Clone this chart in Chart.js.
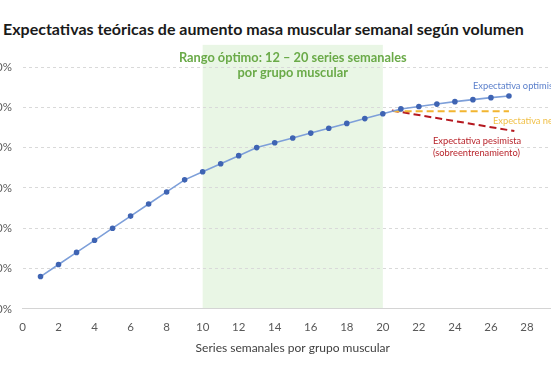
<!DOCTYPE html>
<html>
<head>
<meta charset="utf-8">
<script src="https://cdn.jsdelivr.net/npm/chart.js@4.4.1/dist/chart.umd.min.js"></script>
<style>
  html, body { margin: 0; padding: 0; background: #fff; }
  body { width: 551px; height: 367px; overflow: hidden; position: relative; }
  #title {
    position: absolute; left: 3px; top: 19px; margin: 0;
    font: bold 16px Lato, sans-serif; color: #1a1a1a; white-space: nowrap;
  }
  #wrap { position: absolute; left: 0; top: 0; width: 575px; height: 367px; }
</style>
</head>
<body>
<h1 id="title">Expectativas teóricas de aumento masa muscular semanal según volumen</h1>
<div id="wrap"><canvas id="chart"></canvas></div>
<script>
    'use strict';

    // series semanales (eje X)
    var seriesSemanales = [1, 2, 3, 4, 5, 6, 7, 8, 9, 10, 11, 12, 13, 14, 15, 16, 17, 18, 19, 20, 21, 22, 23, 24, 25, 26, 27];
    var expectativaOptimista = [8, 11, 14, 17, 20, 23, 26, 29, 32, 34, 36, 38, 40, 41.2, 42.4, 43.6, 44.8, 46, 47.2, 48.4, 49.6, 50.2, 50.8, 51.4, 51.9, 52.4, 52.8];

    var neutralX = [20.6, 27];
    var neutralY = [49.0, 49.0];
    var pesimistaX = [20.5, 27.3];
    var pesimistaY = [49.2, 44.1];

    var rangoOptimo = [10, 20];
    var rangoTope = 65.5;
    var xTicks = [0, 2, 4, 6, 8, 10, 12, 14, 16, 18, 20, 22, 24, 26, 28, 30];
    var yTicks = [0, 10, 20, 30, 40, 50, 60];

    function puntos(xs, ys) {
        return xs.map(function(x, i) { return { x: x, y: ys[i] }; });
    }

    var fontFam = 'Lato, sans-serif';

    var rangoPlugin = {
        id: 'rango',
        beforeDraw: function(chart) {
            var x = chart.scales.x, y = chart.scales.y, ctx = chart.ctx;
            var x0 = x.getPixelForValue(rangoOptimo[0]);
            var x1 = x.getPixelForValue(rangoOptimo[1]);
            var y0 = y.getPixelForValue(rangoTope);
            var y1 = y.getPixelForValue(0);
            ctx.save();
            ctx.fillStyle = '#e9f6e5';
            ctx.fillRect(x0, y0, x1 - x0, y1 - y0);
            ctx.restore();
        },
        afterDraw: function(chart) {
            var x = chart.scales.x, ctx = chart.ctx;
            ctx.save();
            // texto del rango
            var cx = (x.getPixelForValue(rangoOptimo[0]) + x.getPixelForValue(rangoOptimo[1])) / 2;
            ctx.fillStyle = '#6aaa48';
            ctx.font = 'bold 12.8px ' + fontFam;
            ctx.textAlign = 'center';
            ctx.textBaseline = 'middle';
            ctx.fillText('Rango óptimo: 12 – 20 series semanales', cx, 58);
            ctx.fillText('por grupo muscular', cx, 73);

            ctx.font = '9.3px ' + fontFam;
            ctx.textAlign = 'left';
            ctx.fillStyle = '#5a7fcb';
            ctx.fillText('Expectativa optimista', 473, 86);
            ctx.fillStyle = '#f0bf45';
            ctx.fillText('Expectativa neutral', 493, 121);
            ctx.fillStyle = '#b8242b';
            ctx.fillText('Expectativa pesimista', 433, 141);
            ctx.fillText('(sobreentrenamiento)', 433, 153);
            ctx.restore();
        }
    };

    new Chart(document.getElementById('chart'), {
        type: 'line',
        data: {
            datasets: [{
                label: 'Expectativa optimista',
                data: puntos(seriesSemanales, expectativaOptimista),
                borderColor: '#7d9fd9',
                backgroundColor: '#3f64b3',
                pointBackgroundColor: '#3f64b3',
                pointBorderColor: '#3f64b3',
                pointRadius: 2,
                borderWidth: 1.6,
                order: 1
            }, {
                label: 'Expectativa neutral',
                data: puntos(neutralX, neutralY),
                borderColor: '#f2b530',
                borderWidth: 2,
                borderDash: [7, 4],
                pointRadius: 0,
                order: 2
            }, {
                label: 'Expectativa pesimista',
                data: puntos(pesimistaX, pesimistaY),
                borderColor: '#b5181f',
                borderWidth: 2,
                borderDash: [7, 4],
                pointRadius: 0,
                order: 3
            }]
        },
        options: {
            responsive: true,
            maintainAspectRatio: false,
            animation: false,
            layout: { padding: { top: 67, right: 12, left: 0, bottom: 12 } },
            plugins: {
                legend: { display: false },
                tooltip: { enabled: false }
            },
            scales: {
                x: {
                    type: 'linear',
                    min: 0,
                    max: 30,
                    afterBuildTicks: function(scale) {
                        scale.ticks = xTicks.map(function(v) { return { value: v }; });
                    },
                    grid: { display: false },
                    border: { display: true, color: '#d4d4d4', width: 1 },
                    ticks: {
                        color: '#595959',
                        font: { family: fontFam, size: 11.5 },
                        padding: 4,
                        maxRotation: 0
                    },
                    title: {
                        display: true,
                        text: 'Series semanales por grupo muscular',
                        color: '#404040',
                        font: { family: fontFam, size: 12 },
                        padding: { top: 2, bottom: 0 }
                    }
                },
                y: {
                    min: 0,
                    max: 60,
                    afterBuildTicks: function(scale) {
                        scale.ticks = yTicks.map(function(v) { return { value: v }; });
                    },
                    afterFit: function(scale) { scale.width = 22.5; },
                    grid: {
                        color: '#d9d9d9',
                        drawTicks: false
                    },
                    border: { display: false, dash: [3, 3] },
                    ticks: {
                        color: '#595959',
                        font: { family: fontFam, size: 11.5 },
                        padding: 10.5,
                        callback: function(v) { return v + '%'; }
                    }
                }
            }
        },
        plugins: [rangoPlugin]
    });
</script>
</body>
</html>
